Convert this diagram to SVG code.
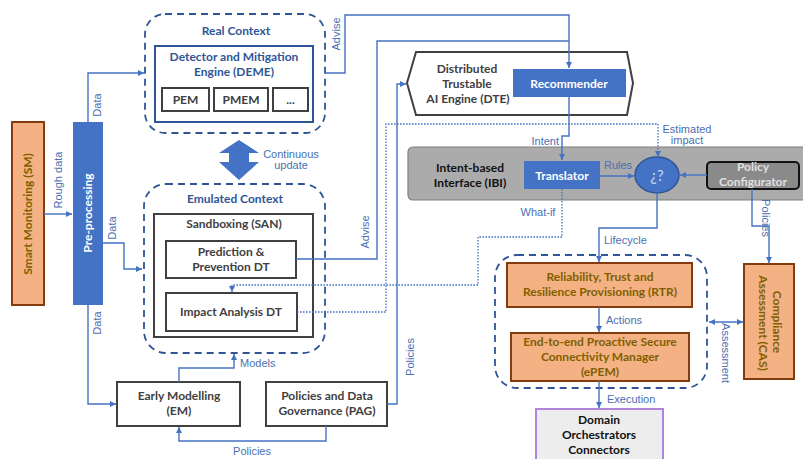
<svg xmlns="http://www.w3.org/2000/svg" width="803" height="459" viewBox="0 0 803 459">
<style>
.conn{fill:none;stroke:#4472C4;stroke-width:1.4}
.dot{fill:none;stroke:#4472C4;stroke-width:1.3;stroke-dasharray:1.6 1.4}
.lbl{font-family:"Liberation Sans",Arial,sans-serif;font-size:11px;fill:#4A6FB0}
.nt{font-family:Lato,"Open Sans",sans-serif;font-weight:bold;font-size:12px;text-anchor:middle}
.orange{fill:#F4B183;stroke:#843C0C;stroke-width:2}
.ot{fill:#7F6000}
.bt{fill:#2F5597}
.dk{fill:#404040}
.wt{fill:#FFFFFF}
.gbox{fill:#FFFFFF;stroke:#404040;stroke-width:2}
.ctx{fill:none;stroke:#2F5597;stroke-width:1.8;stroke-dasharray:7 5}
.blue{fill:#4472C4}
</style>
<defs>
<marker id="ah" markerUnits="userSpaceOnUse" markerWidth="7" markerHeight="7" refX="6" refY="3" orient="auto-start-reverse">
<path d="M0,0 L6,3 L0,6 z" fill="#4472C4"/>
</marker>
</defs>
<rect width="803" height="459" fill="#FFFFFF"/>

<g id="sm">
<rect class="orange" x="12" y="122" width="32" height="183"/>
<text class="nt ot" transform="translate(32,214) rotate(-90)">Smart Monitoring (SM)</text>
</g>
<g id="preprocessing">
<rect class="blue" x="73" y="122" width="30" height="183"/>
<text class="nt wt" font-size="11.5" transform="translate(92,213) rotate(-90)">Pre-processing</text>
</g>

<g id="real-context">
<rect class="ctx" x="145" y="14" width="180" height="119" rx="20"/>
<text class="nt bt" x="236" y="35" font-size="13.5">Real Context</text>
</g>
<g id="deme">
<rect x="155" y="46" width="158" height="76" fill="#FFFFFF" stroke="#2F5597" stroke-width="2"/>
<text class="nt bt" x="234" y="61" font-size="12.5">Detector and Mitigation</text>
<text class="nt bt" x="234" y="76" font-size="12.5">Engine (DEME)</text>
</g>
<g id="pem">
<rect class="gbox" x="162" y="88" width="47" height="23"/>
<text class="nt dk" x="185.5" y="104">PEM</text>
</g>
<g id="pmem">
<rect class="gbox" x="214" y="88" width="54" height="23"/>
<text class="nt dk" x="241" y="104">PMEM</text>
</g>
<g id="etc">
<rect class="gbox" x="273" y="88" width="35" height="23"/>
<text class="nt dk" x="290.5" y="104">...</text>
</g>

<g id="continuous-update">
<polygon class="blue" points="239,140 259,153 249,153 249,162 259,162 239,180 219,162 229,162 229,153 219,153"/>
<text class="lbl" x="291" y="158" text-anchor="middle">Continuous</text>
<text class="lbl" x="291" y="169" text-anchor="middle">update</text>
</g>

<g id="emulated-context">
<rect class="ctx" x="144" y="184" width="181" height="169" rx="22"/>
<text class="nt bt" x="235" y="203" font-size="13.5">Emulated Context</text>
</g>
<g id="san">
<rect class="gbox" x="154" y="214" width="159" height="123"/>
<text class="nt dk" x="234" y="228">Sandboxing (SAN)</text>
</g>
<g id="prediction-dt">
<rect class="gbox" x="166" y="241" width="130" height="37"/>
<text class="nt dk" x="231" y="256">Prediction &amp;</text>
<text class="nt dk" x="231" y="271">Prevention DT</text>
</g>
<g id="impact-dt">
<rect class="gbox" x="166" y="293" width="131" height="38"/>
<text class="nt dk" x="231" y="316">Impact Analysis DT</text>
</g>

<g id="em">
<rect class="gbox" x="117" y="382" width="123" height="44"/>
<text class="nt dk" x="179" y="400">Early Modelling</text>
<text class="nt dk" x="179" y="415">(EM)</text>
</g>
<g id="pag">
<rect class="gbox" x="266" y="382" width="121" height="44"/>
<text class="nt dk" x="327" y="400">Policies and Data</text>
<text class="nt dk" x="327" y="415">Governance (PAG)</text>
</g>

<g id="dte">
<polygon points="407,83 416,52 627,52 633,83 627,115 416,115" fill="#FFFFFF" stroke="#404040" stroke-width="2"/>
<text class="nt dk" x="467" y="73">Distributed</text>
<text class="nt dk" x="467" y="88">Trustable</text>
<text class="nt dk" x="468" y="103">AI Engine (DTE)</text>
</g>
<g id="recommender">
<rect class="blue" x="513" y="69" width="113" height="28"/>
<text class="nt wt" x="569" y="88">Recommender</text>
</g>

<g id="ibi">
<rect x="408" y="147" width="402" height="53" rx="5" fill="#ABABAB" stroke="#7F7F7F" stroke-width="1.2"/>
<text class="nt" x="470" y="172" font-size="13" fill="#111111">Intent-based</text>
<text class="nt" x="470" y="187" font-size="13" fill="#111111">Interface (IBI)</text>
</g>
<g id="translator">
<rect class="blue" x="524" y="161" width="76" height="28"/>
<text class="nt wt" x="562" y="180">Translator</text>
</g>
<g id="decision">
<ellipse cx="657" cy="175" rx="22" ry="18" fill="#4472C4" stroke="#2F5597" stroke-width="1.5"/>
<text x="657" y="181" text-anchor="middle" font-family="Lato,'Open Sans',sans-serif" font-size="15" fill="#C9DAF0">¿?</text>
</g>
<g id="policy-configurator">
<rect x="707" y="162" width="92" height="27" rx="4" fill="#8A8A8A" stroke="#111111" stroke-width="2"/>
<text class="nt" x="753" y="171" font-size="9.5" fill="#E0E0E0">Policy</text>
<text class="nt" x="753" y="185.5" font-size="9.5" fill="#E0E0E0">Configurator</text>
</g>

<g id="rtr-container">
<rect class="ctx" x="495" y="255" width="212" height="133" rx="22"/>
</g>
<g id="rtr">
<rect class="orange" x="507" y="263" width="185" height="44"/>
<text class="nt ot" x="600" y="281">Reliability, Trust and</text>
<text class="nt ot" x="600" y="296">Resilience Provisioning  (RTR)</text>
</g>
<g id="epem">
<rect class="orange" x="511" y="333" width="178" height="48"/>
<text class="nt ot" x="600" y="346">End-to-end Proactive Secure</text>
<text class="nt ot" x="600" y="361">Connectivity Manager</text>
<text class="nt ot" x="600" y="376">(ePEM)</text>
</g>
<g id="cas">
<rect class="orange" x="744" y="264" width="50" height="115"/>
<text class="nt ot" transform="translate(773,322) rotate(90)">Compliance</text>
<text class="nt ot" transform="translate(759,323) rotate(90)">Assessment (CAS)</text>
</g>
<g id="domain">
<rect x="536" y="409" width="127" height="60" fill="#EDEDED" stroke="#B183DB" stroke-width="2"/>
<text class="nt" x="599" y="424" fill="#111111">Domain</text>
<text class="nt" x="599" y="439" fill="#111111">Orchestrators</text>
<text class="nt" x="599" y="454" fill="#111111">Connectors</text>
</g>

<g id="connectors">
<path class="conn" d="M44,214 H72" marker-end="url(#ah)"/>
<path class="conn" d="M88,122 V73 H144" marker-end="url(#ah)"/>
<path class="conn" d="M103,243 H124 V269 H142" marker-end="url(#ah)"/>
<path class="conn" d="M88,305 V404 H116" marker-end="url(#ah)"/>
<path class="conn" d="M325,73 H345 V15 H569 V68" marker-end="url(#ah)"/>
<path class="conn" d="M296,259 H377 V41 H569"/>
<path class="conn" d="M387,404 H397 V84 H406" marker-end="url(#ah)"/>
<path class="conn" d="M569,97 V136 H562 V160" marker-end="url(#ah)"/>
<path class="conn" d="M600,176 H634" marker-end="url(#ah)"/>
<path class="conn" d="M707,175 H680" marker-end="url(#ah)"/>
<path class="conn" d="M657,193 V228 H599 V262" marker-end="url(#ah)"/>
<path class="conn" d="M752,189 V226 H769 V263" marker-end="url(#ah)"/>
<path class="conn" d="M709,322 H743" marker-start="url(#ah)" marker-end="url(#ah)"/>
<path class="conn" d="M599,307 V332" marker-end="url(#ah)"/>
<path class="conn" d="M599,381 V408" marker-end="url(#ah)"/>
<path class="conn" d="M179,382 V368 H234 V354" marker-end="url(#ah)"/>
<path class="conn" d="M326,426 V441 H179 V427" marker-end="url(#ah)"/>
<path class="dot" d="M562,189 V237 H478 V285 H232 V292" marker-end="url(#ah)"/>
<path class="dot" d="M297,312 H386 V124 H658 V157" marker-end="url(#ah)"/>

<text class="lbl" transform="translate(62,180) rotate(-90)" text-anchor="middle">Rough data</text>
<text class="lbl" transform="translate(101,105) rotate(-90)" text-anchor="middle">Data</text>
<text class="lbl" transform="translate(116,228) rotate(-90)" text-anchor="middle">Data</text>
<text class="lbl" transform="translate(101,323) rotate(-90)" text-anchor="middle">Data</text>
<text class="lbl" transform="translate(340,34) rotate(-90)" text-anchor="middle">Advise</text>
<text class="lbl" transform="translate(369,232) rotate(-90)" text-anchor="middle">Advise</text>
<text class="lbl" transform="translate(414,357) rotate(-90)" text-anchor="middle">Policies</text>
<text class="lbl" x="240" y="367">Models</text>
<text class="lbl" x="252" y="455" text-anchor="middle">Policies</text>
<text class="lbl" x="559" y="145" text-anchor="end">Intent</text>
<text class="lbl" x="687" y="133" text-anchor="middle">Estimated</text>
<text class="lbl" x="687" y="144" text-anchor="middle">impact</text>
<text class="lbl" x="618" y="169" text-anchor="middle">Rules</text>
<text class="lbl" x="538" y="216" text-anchor="middle">What-if</text>
<text class="lbl" x="604" y="244">Lifecycle</text>
<text class="lbl" transform="translate(762,218) rotate(90)" text-anchor="middle">Policies</text>
<text class="lbl" transform="translate(722,353) rotate(90)" text-anchor="middle">Assessment</text>
<text class="lbl" x="606" y="324">Actions</text>
<text class="lbl" x="607" y="403">Execution</text>
</g>
</svg>
